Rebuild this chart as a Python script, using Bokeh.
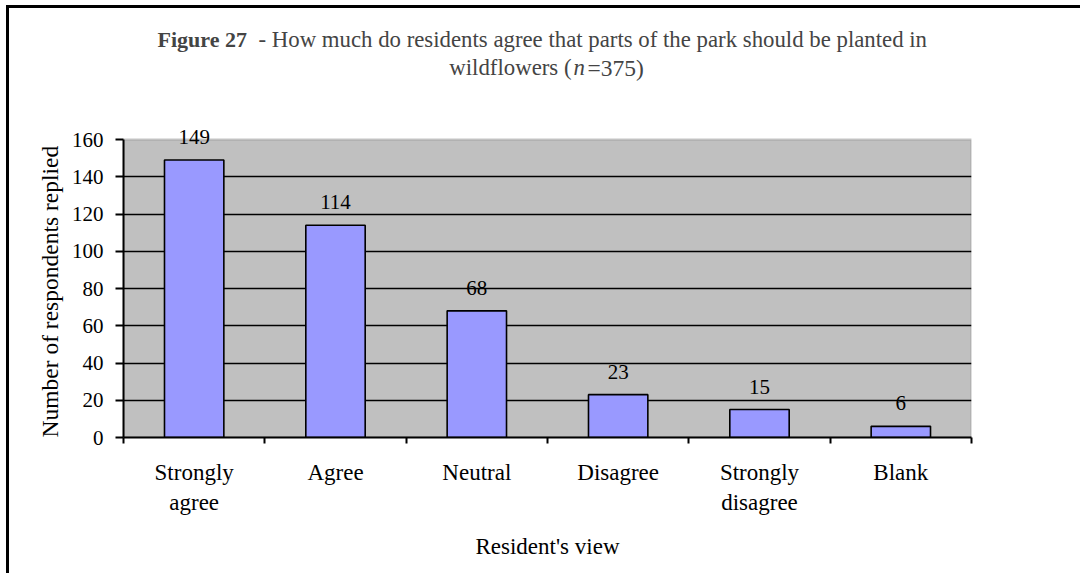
from bokeh.plotting import figure
from bokeh.models import (FactorRange, Range1d, LinearAxis, FixedTicker, Title,
                          ColumnDataSource, LabelSet, Label, Grid, BoxAnnotation)
from bokeh.core.properties import value
from bokeh.embed import file_html
from bokeh.resources import INLINE

categories = ["Strongly\nagree", "Agree", "Neutral", "Disagree", "Strongly\ndisagree", "Blank"]
counts = [149, 114, 68, 23, 15, 6]
y_ticks = [0, 20, 40, 60, 80, 100, 120, 140, 160]
y_max = 160

FONT = "Liberation Serif"

# layout (page pixels): plot area from y=139 (value 160) to y=437 (value 0)
W, H = 1074, 568
ORIGIN_X, ORIGIN_Y = 9, 8
AREA_TOP, AREA_BOTTOM, AREA_LEFT, AREA_RIGHT = 139, 437, 123, 971
FRAME_TOP = 20
px_per_unit = (AREA_BOTTOM - AREA_TOP) / y_max
y_end = (AREA_BOTTOM - FRAME_TOP) / px_per_unit

def ydata(page_y):
    return (AREA_BOTTOM - page_y) / px_per_unit

slot = (AREA_RIGHT - AREA_LEFT) / len(categories)
def xdata(page_x):
    return (page_x - AREA_LEFT) / slot

p = figure(x_range=FactorRange(factors=categories), y_range=Range1d(0, y_end),
           width=W, height=H, output_backend="svg", toolbar_location=None,
           x_axis_location=None, y_axis_location=None,
           min_border_left=AREA_LEFT - ORIGIN_X, min_border_right=ORIGIN_X + W - AREA_RIGHT,
           min_border_top=FRAME_TOP - ORIGIN_Y, min_border_bottom=ORIGIN_Y + H - AREA_BOTTOM,
           background_fill_color="white", border_fill_color="white",
           outline_line_color=None)
p.styles = {"margin-left": "6px", "margin-top": "5px",
            "border-left": "3px solid black", "border-top": "3px solid black"}
p.center = [r for r in p.center if not isinstance(r, Grid)]

# grey plot area
p.add_layout(BoxAnnotation(bottom=0, top=y_max, fill_color="#C0C0C0", fill_alpha=1,
                           line_color="#808080", line_width=2.5, level="image"))

grid = Grid(dimension=1, ticker=FixedTicker(ticks=[t for t in y_ticks if 0 < t < y_max]),
            grid_line_color="black", grid_line_width=1.5)
p.add_layout(grid)

src = ColumnDataSource(dict(cat=categories, count=counts, label=[str(c) for c in counts]))
p.vbar(x="cat", top="count", width=0.42, source=src, fill_color="#9999FF",
       line_color="black", line_width=1.6)

p.add_layout(LabelSet(x="cat", y="count", text="label", source=src, y_offset=16,
                      text_align="center", text_baseline="alphabetic",
                      text_font=value(FONT), text_font_size=value("21px"), text_color="black"))

yax = LinearAxis(ticker=FixedTicker(ticks=y_ticks), bounds=(0, y_max),
                 axis_line_color="black", axis_line_width=2,
                 major_tick_line_width=2, major_tick_out=8, major_tick_in=0,
                 minor_tick_line_color=None, major_label_standoff=12,
                 major_label_text_font=FONT, major_label_text_font_size="21px",
                 major_label_text_color="black")
p.add_layout(yax, "left")
p.add_layout(Title(text="Number of respondents replied", align="left", offset=0, standoff=12,
                   text_font=FONT, text_font_size="23.5px", text_font_style="normal",
                   text_color="black"), "left")

centers = [i + 0.5 for i in range(len(categories))]
boundaries = list(range(len(categories) + 1))
xax = LinearAxis(ticker=FixedTicker(ticks=centers, minor_ticks=boundaries),
                 major_label_overrides={c: name for c, name in zip(centers, categories)},
                 axis_line_color="black", axis_line_width=2,
                 major_tick_line_color=None, major_tick_out=0, major_tick_in=0,
                 minor_tick_line_color="black", minor_tick_line_width=2,
                 minor_tick_out=6, minor_tick_in=0,
                 major_label_standoff=16, axis_label="Resident's view",
                 major_label_text_font=FONT, major_label_text_font_size="23px",
                 major_label_text_color="black",
                 axis_label_text_font=FONT, axis_label_text_font_size="23px",
                 axis_label_text_color="black",
                 axis_label_text_font_style="normal", axis_label_standoff=16)
p.add_layout(xax, "below")

# Title (mixed styles) as labels
t1 = ydata(39)
t2 = ydata(67)
p.add_layout(Label(x=xdata(157), y=t1, text="Figure 27", text_font=FONT, text_font_size="22px",
                   text_font_style="bold", text_baseline="alphabetic", text_align="left"))
p.add_layout(Label(x=xdata(258), y=t1,
                   text="- How much do residents agree that parts of the park should be planted in",
                   text_font=FONT, text_font_size="22.8px", text_baseline="alphabetic", text_align="left"))
p.add_layout(Label(x=xdata(571), y=t2, text="wildflowers (", text_font=FONT, text_font_size="22.8px",
                   text_baseline="alphabetic", text_align="right"))
p.add_layout(Label(x=xdata(573), y=t2, text="n", text_font=FONT, text_font_size="22.8px",
                   text_font_style="italic", text_baseline="alphabetic", text_align="left"))
p.add_layout(Label(x=xdata(587), y=t2, text="=375)", text_font=FONT, text_font_size="23.5px",
                   text_baseline="alphabetic", text_align="left"))

open("out.html", "w").write(file_html(p, INLINE))
